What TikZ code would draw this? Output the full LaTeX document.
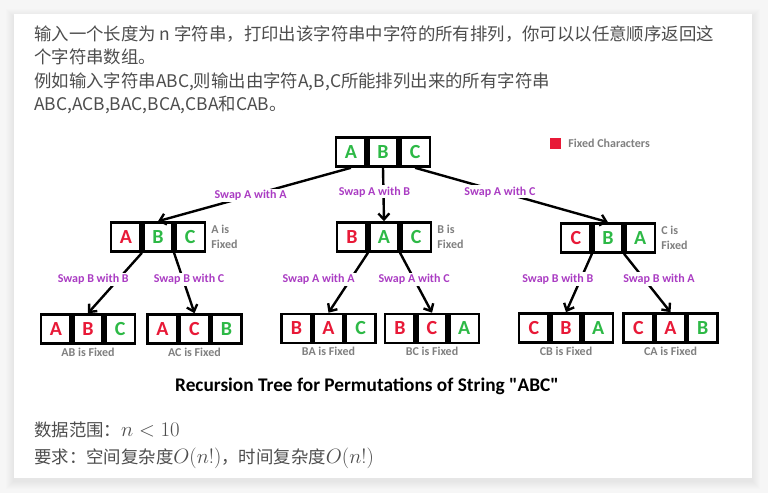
\documentclass[tikz,border=0pt]{standalone}
\usepackage{fontspec}
\usepackage{tikz}
\usetikzlibrary{arrows.meta,positioning}
\usepackage{xcolor}
\newfontfamily\cjk{Noto Sans CJK SC}
\newfontfamily\carfont{Carlito}
\definecolor{fixred}{RGB}{232,25,55}
\definecolor{freegreen}{RGB}{45,185,70}
\definecolor{swappurple}{RGB}{170,60,195}
\definecolor{notegray}{RGB}{128,128,128}
\definecolor{bodygray}{RGB}{77,77,77}
\definecolor{pagebg}{RGB}{246,246,246}
\newcommand{\fixch}[1]{\textcolor{fixred}{#1}}
\newcommand{\freech}[1]{\textcolor{freegreen}{#1}}
\newcommand{\kmath}[1]{{\fontsize{21}{24}\selectfont$#1$}}
% one string as a row of three cells, named <name>-1 .. <name>-3
\newcommand{\permbox}[5]{%
  \node[cell] (#1-2) at (#2) {#4};
  \node[cell, left=0pt of #1-2] (#1-1) {#3};
  \node[cell, right=0pt of #1-2] (#1-3) {#5};}

\begin{document}
\begin{tikzpicture}[x=1pt, y=-1pt,
  cell/.style={draw, line width=2.6pt, minimum width=29.5pt, minimum height=29pt,
               inner sep=0pt, font=\carfont\bfseries\fontsize{20}{20}\selectfont},
  ar/.style={line width=2.4pt, -{Straight Barb[length=6pt,width=11pt]}},
  lbl/.style={fill=white, inner sep=1.5pt, text=swappurple,
              font=\carfont\bfseries\fontsize{12}{12}\selectfont},
  note/.style={inner sep=2pt, align=left, text=notegray,
               font=\carfont\bfseries\fontsize{12}{14.5}\selectfont},
  body/.style={inner sep=0pt, align=left, text=bodygray,
               font=\cjk\fontsize{17.4}{23.4}\selectfont},
  title/.style={font=\carfont\bfseries\fontsize{19.3}{19}\selectfont}]
\useasboundingbox (0,0) rectangle (768,493);
\fill[pagebg] (0,0) rectangle (768,493);
\foreach \s in {1,...,8}
  \fill[black, opacity=.008] (14-\s,17-\s) rectangle (752+\s,481+\s);
\fill[white] (14,14) rectangle (752,478);

\node[body, anchor=north west] (intro) at (34,25.5) {输入一个长度为 n 字符串，打印出该字符串中字符的所有排列，你可以以任意顺序返回这\\个字符串数组。\\例如输入字符串ABC,则输出由字符A,B,C所能排列出来的所有字符串\\ABC,ACB,BAC,BCA,CBA和CAB。};

% the recursion tree
\permbox{root}{383,152}{\freech{A}}{\freech{B}}{\freech{C}}
\permbox{a}{158,237}{\fixch{A}}{\freech{B}}{\freech{C}}
\permbox{b}{384,237}{\fixch{B}}{\freech{A}}{\freech{C}}
\permbox{c}{608,238}{\fixch{C}}{\freech{B}}{\freech{A}}
\permbox{ab}{88,329}{\fixch{A}}{\fixch{B}}{\freech{C}}
\permbox{ac}{194.5,329}{\fixch{A}}{\fixch{C}}{\freech{B}}
\permbox{ba}{328.5,328.5}{\fixch{B}}{\fixch{A}}{\freech{C}}
\permbox{bc}{432,328.5}{\fixch{B}}{\fixch{C}}{\freech{A}}
\permbox{cb}{566,328}{\fixch{C}}{\fixch{B}}{\freech{A}}
\permbox{ca}{670.5,328}{\fixch{C}}{\fixch{A}}{\freech{B}}

\node[fill=fixred, minimum size=11pt, inner sep=0pt] (key) at (555.5,143) {};
\node[note, right=5pt of key] (keytxt) {Fixed Characters};

\node[note, right=3pt of a-3] (afix) {A is\\Fixed};
\node[note, right=3pt of b-3] (bfix) {B is\\Fixed};
\node[note, right=3pt of c-3] (cfix) {C is\\Fixed};
\node[note, below=1pt of ab-2] (abfix) {AB is Fixed};
\node[note, below=1pt of ac-2] (acfix) {AC is Fixed};
\node[note, below=1pt of ba-2] (bafix) {BA is Fixed};
\node[note, below=1pt of bc-2] (bcfix) {BC is Fixed};
\node[note, below=1pt of cb-2] (cbfix) {CB is Fixed};
\node[note, below=1pt of ca-2] (cafix) {CA is Fixed};

\draw[ar] (root-1.south) -- node[lbl, pos=.52] {Swap A with A} (a-2.north);
\draw[ar] (root-2.south) -- node[lbl, pos=.45, xshift=-9pt] {Swap A with B} (b-2.north);
\draw[ar] (root-3.south) -- node[lbl, pos=.44] {Swap A with C} (c-2.north);
\draw[ar] (a-1.south east) -- node[lbl, pos=.44, xshift=-25pt] {Swap B with B} (ab-2.north);
\draw[ar] (a-2.south east) -- node[lbl, pos=.44, xshift=6pt] {Swap B with C} (ac-2.north);
\draw[ar] (b-1.south east) -- node[lbl, pos=.44, xshift=-32pt] {Swap A with A} (ba-2.north);
\draw[ar] (b-2.south east) -- node[lbl, pos=.44] {Swap A with C} (bc-2.north);
\draw[ar] (c-1.south east) -- node[lbl, pos=.43, xshift=-23pt] {Swap B with B} (cb-2.north);
\draw[ar] (c-2.south east) -- node[lbl, pos=.43, xshift=15pt] {Swap B with A} (ca-2.north);

\node[title] (ttl) at (367,386) {Recursion Tree for Permutations of String "ABC"};

\node[body, anchor=base west] (range) at (34,436.5) {数据范围：\kmath{n<10}};
\node[body, anchor=base west] (need) at (34,463.5) {要求：空间复杂度\kmath{O(n!)}，时间复杂度\kmath{O(n!)}};
\end{tikzpicture}
\end{document}
